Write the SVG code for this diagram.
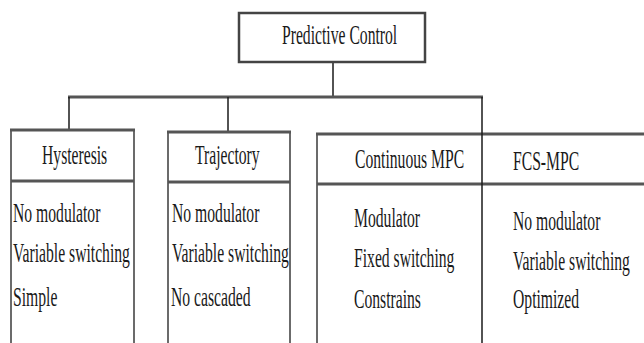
<svg xmlns="http://www.w3.org/2000/svg" width="644" height="343" viewBox="0 0 644 343">
<style>
text{font-family:"Liberation Serif","Times New Roman",serif;font-size:27px;fill:#1a1a1a}
.edge{stroke:#3a3a3a;stroke-width:1.5;fill:none}
.thick{stroke:#555;stroke-width:3;fill:none}
.conn{stroke:#1a1a1a;stroke-width:1.5;fill:none}
</style>
<rect width="644" height="343" fill="#fff"/>
<g id="connectors">
<line class="conn" x1="333" y1="62" x2="333" y2="97"/>
<line class="thick" x1="68" y1="97" x2="483" y2="97"/>
<line class="conn" x1="69" y1="97" x2="69" y2="130"/>
<line class="conn" x1="228" y1="97" x2="228" y2="132"/>
</g>
<g id="predictive-control">
<rect x="239" y="13" width="186" height="49" fill="#fff" stroke="#444" stroke-width="2.5"/>
<text transform="translate(282,44) scale(0.58,1)">Predictive Control</text>
</g>
<g id="hysteresis">
<line class="edge" x1="11" y1="130" x2="11" y2="343"/>
<line class="edge" x1="134" y1="130" x2="134" y2="343"/>
<line class="thick" x1="10" y1="130" x2="135" y2="130"/>
<line class="thick" x1="11" y1="181" x2="134" y2="181"/>
<text transform="translate(42,164) scale(0.58,1)">Hysteresis</text>
<text transform="translate(13,222) scale(0.58,1)">No modulator</text>
<text transform="translate(13,262) scale(0.58,1)">Variable switching</text>
<text transform="translate(13,306) scale(0.58,1)">Simple</text>
</g>
<g id="trajectory">
<line class="edge" x1="168" y1="132" x2="168" y2="343"/>
<line class="edge" x1="290" y1="132" x2="290" y2="343"/>
<line class="thick" x1="167" y1="132" x2="291" y2="132"/>
<line class="thick" x1="168" y1="182" x2="290" y2="182"/>
<text transform="translate(195,164) scale(0.58,1)">Trajectory</text>
<text transform="translate(172,222) scale(0.58,1)">No modulator</text>
<text transform="translate(172,262) scale(0.58,1)">Variable switching</text>
<text transform="translate(171,306) scale(0.58,1)">No cascaded</text>
</g>
<g id="continuous-mpc">
<line class="edge" x1="317" y1="134" x2="317" y2="343"/>
<line class="thick" x1="316" y1="134" x2="644" y2="134"/>
<line class="thick" x1="317" y1="184" x2="644" y2="184"/>
<line class="conn" x1="482" y1="97" x2="482" y2="343"/>
<text transform="translate(355,168) scale(0.58,1)">Continuous MPC</text>
<text transform="translate(354,227) scale(0.58,1)">Modulator</text>
<text transform="translate(354,267) scale(0.58,1)">Fixed switching</text>
<text transform="translate(354,308) scale(0.58,1)">Constrains</text>
</g>
<g id="fcs-mpc">
<text transform="translate(513,170) scale(0.58,1)">FCS-MPC</text>
<text transform="translate(513,230) scale(0.58,1)">No modulator</text>
<text transform="translate(513,270) scale(0.58,1)">Variable switching</text>
<text transform="translate(513,308) scale(0.58,1)">Optimized</text>
</g>
</svg>
